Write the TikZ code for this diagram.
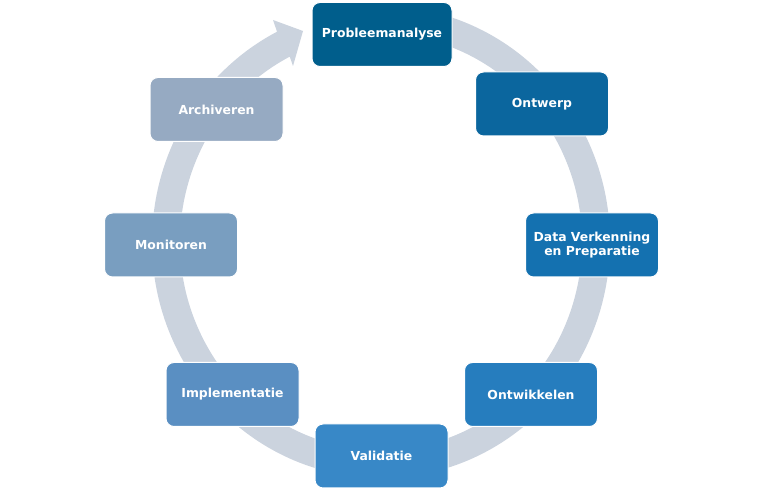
\documentclass[tikz,border=0pt]{standalone}
\usepackage{fontspec}
\setmainfont{DejaVu Sans}
\usepackage{tikz}
\usetikzlibrary{positioning, calc}

\definecolor{bandgray}{RGB}{203,211,222}
\definecolor{stepA}{RGB}{0,94,140}
\definecolor{stepB}{RGB}{11,102,158}
\definecolor{stepC}{RGB}{20,113,176}
\definecolor{stepD}{RGB}{38,125,190}
\definecolor{stepE}{RGB}{56,136,199}
\definecolor{stepF}{RGB}{90,143,194}
\definecolor{stepG}{RGB}{121,158,192}
\definecolor{stepH}{RGB}{150,170,194}

\tikzset{
    stepbox/.style={draw=white, line width=0.75pt, rounded corners=6pt,
        minimum height=64*0.75pt, inner sep=0pt, text=white, align=center,
        font=\bfseries\fontsize{9.3}{10.5}\selectfont}
}

\begin{document}
\begin{tikzpicture}[x=0.75pt, y=0.75pt]
    \def\cx{381}
    \def\cy{249}

    \useasboundingbox (0,0) rectangle (764,491);

    % circular band with arrow head
    \begin{scope}[shift={(\cx,\cy)}]
        \fill[bandgray]
            (85:229 and 236) arc[start angle=85, end angle=-243, x radius=229, y radius=236]
            -- (-108,222) -- (-78,211) -- (-88,176)
            -- (-243:201 and 208) arc[start angle=-243, end angle=85, x radius=201, y radius=208]
            -- cycle;
    \end{scope}

    % steps
    \foreach \name/\x/\y/\w/\co/\txt in {
        prob/382/456.5/140/stepA/Probleemanalyse,
        ontw/542/387/133/stepB/Ontwerp,
        data/592/246/133/stepC/{Data Verkenning\\en Preparatie},
        ontk/531/96.5/133/stepD/Ontwikkelen,
        vali/381.5/35/133/stepE/Validatie,
        impl/232.5/96.5/133/stepF/Implementatie,
        moni/171/246/133/stepG/Monitoren,
        arch/216.5/381.5/133/stepH/Archiveren}
    {
        \node[stepbox, fill=\co, minimum width=\w*0.75pt] (\name) at (\x,\y) {\txt};
    }
\end{tikzpicture}
\end{document}
